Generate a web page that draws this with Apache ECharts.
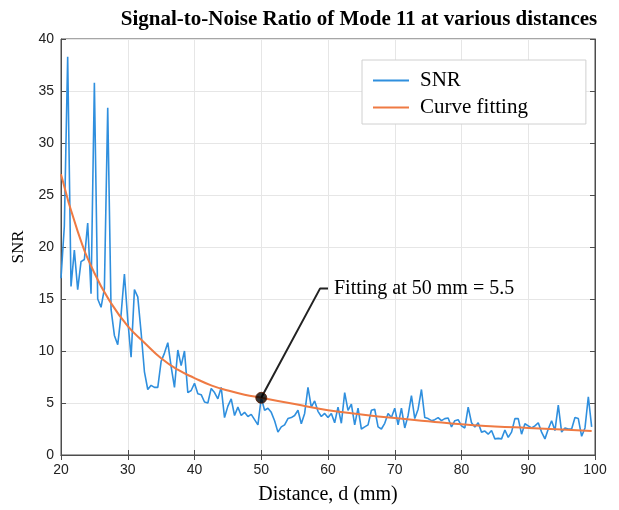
<!DOCTYPE html>
<html><head><meta charset="utf-8">
<script src="https://cdn.jsdelivr.net/npm/echarts@6/dist/echarts.min.js"></script>
<style>html,body{margin:0;padding:0;background:#fff}#c{width:619px;height:510px}</style>
</head><body><div id="c"></div><script>
const distances = [20,20.5,21,21.5,22,22.5,23,23.5,24,24.5,25,25.5,26,26.5,27,27.5,28,28.5,29,29.5,
30,30.5,31,31.5,32,32.5,33,33.5,34,34.5,35,35.5,36,36.5,37,37.5,38,38.5,39,39.5,
40,40.5,41,41.5,42,42.5,43,43.5,44,44.5,45,45.5,46,46.5,47,47.5,48,48.5,49,49.5,
50,50.5,51,51.5,52,52.5,53,53.5,54,54.5,55,55.5,56,56.5,57,57.5,58,58.5,59,59.5,
60,60.5,61,61.5,62,62.5,63,63.5,64,64.5,65,65.5,66,66.5,67,67.5,68,68.5,69,69.5,
70,70.5,71,71.5,72,72.5,73,73.5,74,74.5,75,75.5,76,76.5,77,77.5,78,78.5,79,79.5,
80,80.5,81,81.5,82,82.5,83,83.5,84,84.5,85,85.5,86,86.5,87,87.5,88,88.5,89,89.5,
90,90.5,91,91.5,92,92.5,93,93.5,94,94.5,95,95.5,96,96.5,97,97.5,98,98.5,99,99.5];
const snr = [17.0,22.0,38.3,16.2,19.7,15.9,18.6,18.8,22.3,15.5,35.8,15.0,14.2,16.0,33.4,14.0,11.5,10.6,13.5,17.4,
13.0,9.4,15.9,15.2,11.8,8.0,6.3,6.7,6.5,6.5,9.0,9.8,10.8,8.5,6.5,10.1,8.6,10.0,6.0,6.2,
6.9,5.9,5.8,5.1,5.0,6.4,6.0,5.4,6.5,3.6,4.7,5.4,3.8,4.6,3.8,4.1,3.7,3.9,3.4,2.9,
5.5,4.3,4.5,4.1,3.3,2.2,2.7,2.9,3.5,3.6,3.8,4.3,3.0,4.0,6.5,4.6,5.2,4.2,3.7,4.0,
3.6,4.0,3.1,4.6,3.05,6.0,4.3,4.9,2.9,4.5,2.5,2.7,2.9,4.3,4.4,2.7,2.5,3.05,4.0,3.6,
4.5,2.9,4.5,2.6,3.8,5.7,3.5,4.4,6.3,3.6,3.5,3.3,3.4,3.6,3.3,3.5,3.55,2.7,3.3,3.4,
2.8,2.6,4.6,3.1,2.7,3.1,2.2,2.3,2.0,2.35,1.55,1.6,1.55,2.4,1.7,2.2,3.5,3.5,2.0,3.0,
2.8,2.6,2.8,3.1,2.2,1.55,2.5,3.3,2.35,4.8,2.2,2.6,2.5,2.5,3.6,3.5,1.8,2.6,5.6,2.7];
const fitDistances = [20,22.5,25,27.5,30,32.5,35,37.5,40,42.5,45,47.5,50,55,60,65,70,75,80,85,90,95,99.5];
const fitValues = [27.0,21.5,17.5,14.6,12.4,10.8,9.3,8.2,7.4,6.7,6.2,5.8,5.5,4.9,4.3,3.9,3.55,3.25,2.95,2.75,2.6,2.45,2.3];
const annotationPath = [[50,5.5],[58.8,16.0],[60,16.0]];
const annotationText = 'Fitting at 50 mm = 5.5';
const xMin = 20, xMax = 100, xStep = 10;
const yMin = 0, yMax = 40, yStep = 5;

const serif = 'Liberation Serif';
const sans = 'Liberation Sans';
const axisCol = '#4d4d4d';
const chart = echarts.init(document.getElementById('c'), null, {renderer:'canvas'});
const mirror = (pos) => ({
  position: pos, axisLine:{show:true,lineStyle:{color:axisCol}},
  axisTick:{show:true,inside:true,length:5,lineStyle:{color:axisCol}},
  axisLabel:{show:false}, splitLine:{show:false}
});
chart.setOption({
  animation:false,
  backgroundColor:'#fff',
  title:{text:'Signal-to-Noise Ratio of Mode 11 at various distances',left:354,top:4,textAlign:'center',
    textStyle:{fontFamily:serif,fontWeight:'bold',fontSize:21,color:'#000'}},
  grid:{left:61,right:24,top:39,bottom:52,show:true,borderColor:axisCol,borderWidth:1},
  legend:{data:['SNR','Curve fitting'],orient:'vertical',left:362,top:60,icon:'rect',itemWidth:36,itemHeight:2,itemGap:6,
    padding:[10,58,6,11],backgroundColor:'#fff',borderColor:'#d0d0d0',borderWidth:1,
    textStyle:{fontFamily:serif,fontSize:21,color:'#000',padding:[0,0,0,6]}},
  xAxis:[{type:'value',min:xMin,max:xMax,interval:xStep,position:'bottom',
    name:'Distance, d (mm)',nameLocation:'middle',nameGap:30,
    nameTextStyle:{fontFamily:serif,fontSize:20,color:'#000'},
    axisLine:{show:true,lineStyle:{color:axisCol}},
    axisTick:{show:true,inside:true,length:5,lineStyle:{color:axisCol}},
    axisLabel:{fontFamily:sans,fontSize:14,color:'#222',margin:8},
    splitLine:{show:true,lineStyle:{color:'#e6e6e6'}}},
    Object.assign({type:'value',min:xMin,max:xMax,interval:xStep},mirror('top'))],
  yAxis:[{type:'value',min:yMin,max:yMax,interval:yStep,position:'left',
    name:'SNR',nameLocation:'middle',nameGap:26,
    nameTextStyle:{fontFamily:serif,fontSize:17,color:'#000'},
    axisLine:{show:true,lineStyle:{color:axisCol}},
    axisTick:{show:true,inside:true,length:5,lineStyle:{color:axisCol}},
    axisLabel:{fontFamily:sans,fontSize:14,color:'#222',margin:7},
    splitLine:{show:true,lineStyle:{color:'#e6e6e6'}}},
    Object.assign({type:'value',min:yMin,max:yMax,interval:yStep},mirror('right'))],
  series:[
    {name:'SNR',type:'line',symbol:'none',data:distances.map((d,i)=>[d,snr[i]]),
      lineStyle:{color:'#2f8fde',width:1.6},itemStyle:{color:'#2f8fde'},z:2},
    {name:'Curve fitting',type:'line',symbol:'none',smooth:true,data:fitDistances.map((d,i)=>[d,fitValues[i]]),
      lineStyle:{color:'#ef7a43',width:2},itemStyle:{color:'#ef7a43'},z:3},
    {name:'annot',type:'line',symbol:'none',data:annotationPath,silent:true,
      lineStyle:{color:'#222',width:2},z:4,
      endLabel:{show:true,formatter:annotationText,distance:6,fontFamily:serif,fontSize:20,color:'#000'}},
    {name:'dot',type:'scatter',data:[annotationPath[0]],symbolSize:11,
      itemStyle:{color:'#000',borderColor:'#5a1a00',borderWidth:1},z:5}
  ]
});
</script></body></html>
